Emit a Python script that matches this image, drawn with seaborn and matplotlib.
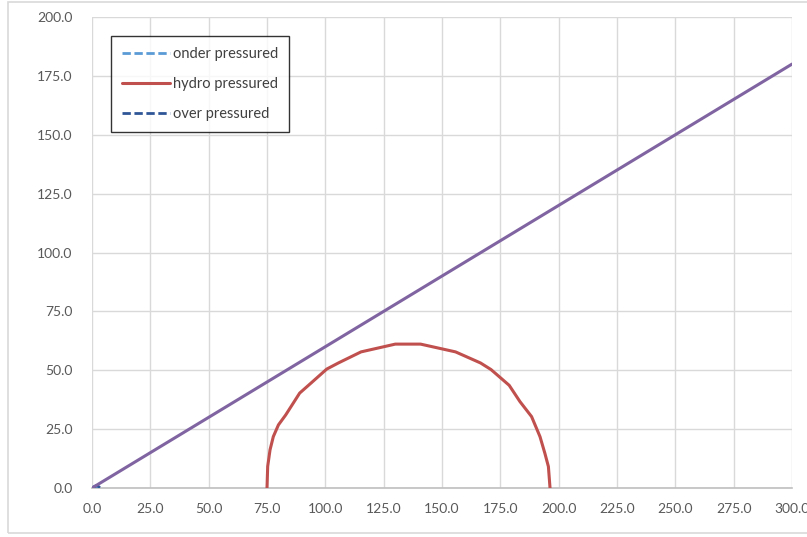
import matplotlib
matplotlib.use("Agg")
import matplotlib.pyplot as plt
from matplotlib.patches import Rectangle
import seaborn as sns
import pandas as pd

# Mohr circles (normal stress vs shear stress) and failure envelope
onder_x = [0.0, 0.8, 1.6, 2.4]
onder_y = [0.0, 0.6, 0.6, 0.0]

hydro_x = [75.0, 75.3, 76.3, 77.7, 79.9, 83.0, 89.0, 93.0, 100.6, 105.6, 115.3, 130.0,
           140.8, 155.8, 166.5, 171.0, 178.8, 183.4, 188.4, 192.0, 194.1, 195.6, 196.3]
hydro_y = [0.0, 9.2, 16.2, 21.8, 26.8, 31.0, 40.3, 43.8, 50.5, 53.1, 57.8, 61.1,
           61.1, 57.8, 53.1, 50.3, 43.6, 36.7, 30.3, 21.8, 14.7, 9.1, 0.0]

over_x = [0.5, 1.5, 2.5, 3.5]
over_y = [0.0, 0.9, 0.9, 0.0]

envelope_x = [0.0, 300.0]
envelope_y = [0.0, 180.0]

x_ticks = [0, 25, 50, 75, 100, 125, 150, 175, 200, 225, 250, 275, 300]
y_ticks = [0, 25, 50, 75, 100, 125, 150, 175, 200]

sns.set_style("white")
plt.rcParams["font.family"] = ["Lato", "DejaVu Sans"]

fig = plt.figure(figsize=(8.07, 5.37), dpi=100)
ax = fig.add_axes([92 / 807, 1 - 488 / 537, 700 / 807, 471 / 537])

# chart border
fig.patches.append(Rectangle((8 / 807, 1 - 533 / 537), 1.0, 531 / 537,
                             transform=fig.transFigure, fill=False,
                             edgecolor="#D9D9D9", linewidth=1.2, zorder=0))

df_onder = pd.DataFrame({"x": onder_x, "y": onder_y})
df_hydro = pd.DataFrame({"x": hydro_x, "y": hydro_y})
df_over = pd.DataFrame({"x": over_x, "y": over_y})
df_env = pd.DataFrame({"x": envelope_x, "y": envelope_y})

sns.lineplot(data=df_onder, x="x", y="y", sort=False, ax=ax, color="#5B9BD5",
             linewidth=2, linestyle=(0, (3.0, 1.3)), label="onder pressured", zorder=3)
sns.lineplot(data=df_hydro, x="x", y="y", sort=False, ax=ax, color="#C0504D",
             linewidth=2.2, label="hydro pressured", zorder=4)
sns.lineplot(data=df_over, x="x", y="y", sort=False, ax=ax, color="#2F5597",
             linewidth=2, linestyle=(0, (3.0, 1.3)), label="over pressured", zorder=3)
sns.lineplot(data=df_env, x="x", y="y", sort=False, ax=ax, color="#8064A2",
             linewidth=2.2, label="_envelope", zorder=5)

ax.set_xlim(0, 300)
ax.set_ylim(0, 200)
ax.set_xticks(x_ticks)
ax.set_yticks(y_ticks)
ax.set_xticklabels([f"{v:.1f}" for v in x_ticks])
ax.set_yticklabels([f"{v:.1f}" for v in y_ticks])
ax.set_xlabel("")
ax.set_ylabel("")
ax.grid(True, color="#D9D9D9", linewidth=1)
ax.set_axisbelow(True)
for side in ["top", "right", "left"]:
    ax.spines[side].set_visible(False)
ax.spines["bottom"].set_color("#BFBFBF")
ax.spines["bottom"].set_linewidth(1.2)
ax.tick_params(axis="both", length=0, labelsize=10, labelcolor="#595959")
ax.tick_params(axis="x", pad=11)
ax.tick_params(axis="y", pad=14)

leg = ax.legend(loc="upper left", bbox_to_anchor=(19 / 700, 1 - 19 / 471),
                frameon=True, fancybox=False, fontsize=10.5, handlelength=3.3,
                handletextpad=0.2, labelspacing=1.1, borderpad=0.75,
                borderaxespad=0)
leg.get_frame().set_edgecolor("black")
leg.get_frame().set_linewidth(1)
for t in leg.get_texts():
    t.set_color("#404040")

fig.savefig("out.png", dpi=100)
